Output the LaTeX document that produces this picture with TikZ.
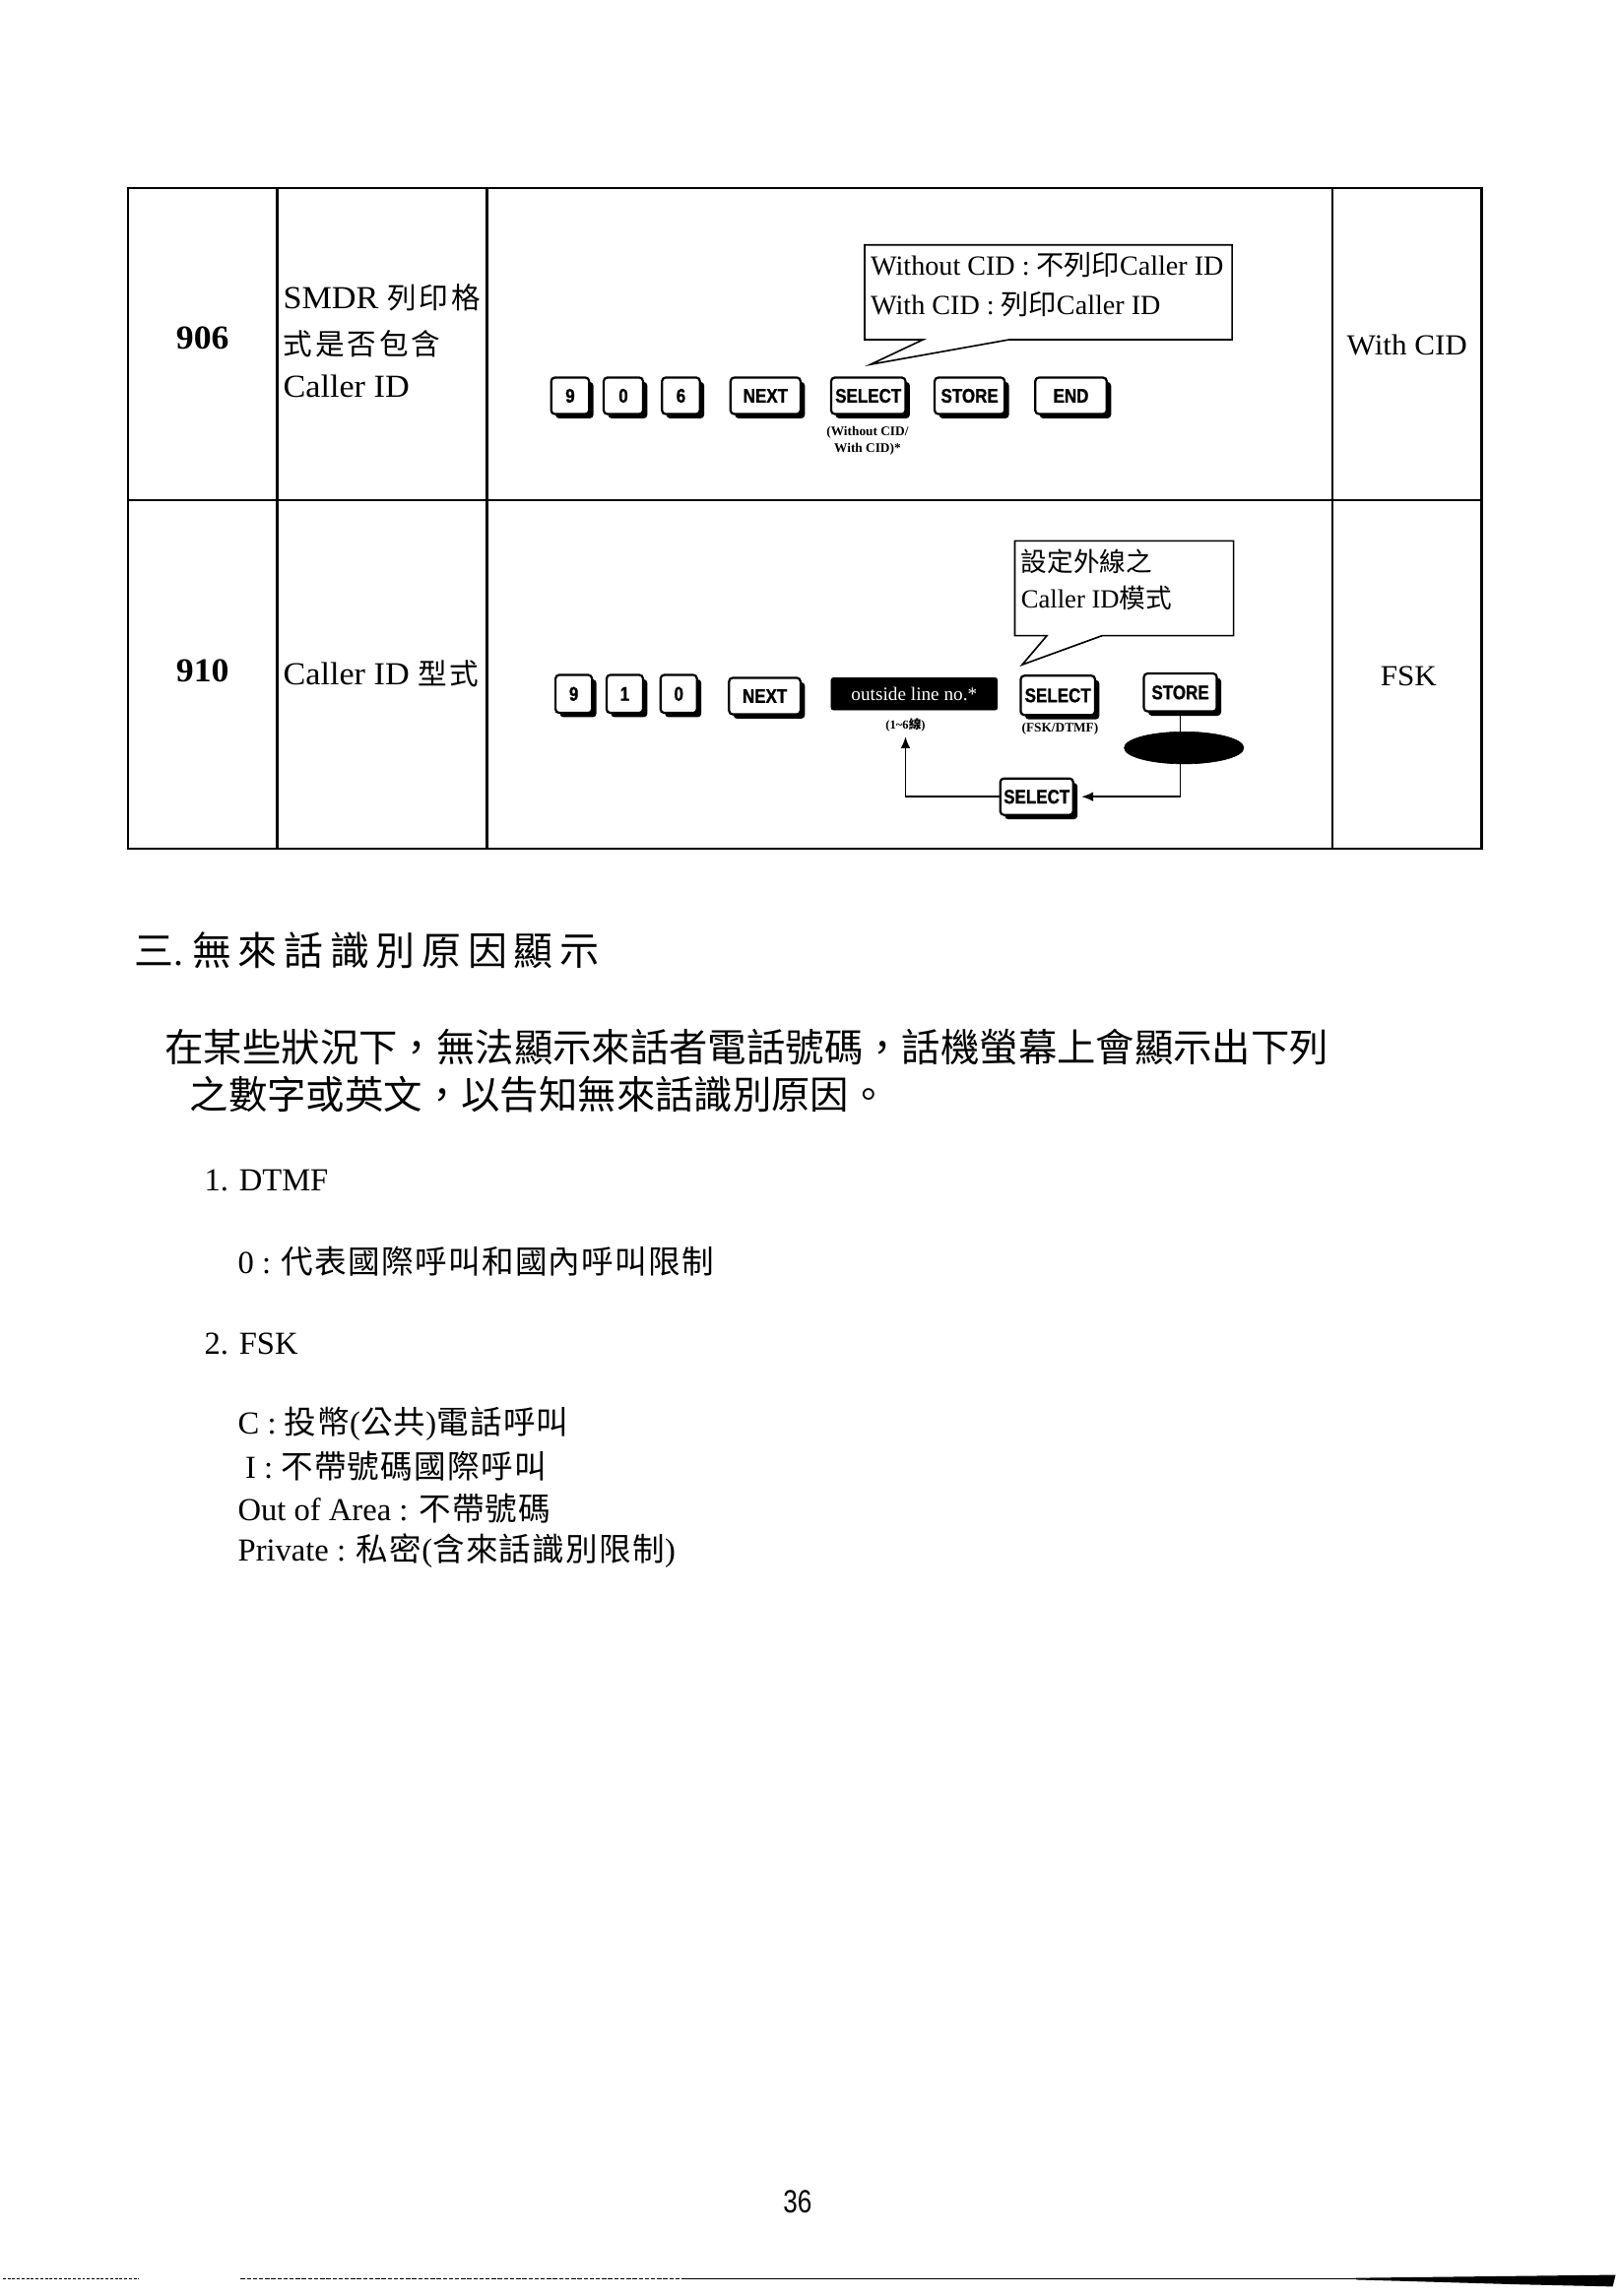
\documentclass[tikz,border=0pt]{standalone}
\usepackage{fontspec}
\setmainfont{Liberation Serif}
\newfontfamily\zhfont{Noto Sans CJK TC}
\newfontfamily\zhsfont{Noto Sans CJK TC}[LetterSpace=4]
\newfontfamily\tabfont{Liberation Serif}[FakeStretch=1.05]
\newfontfamily\keyfont{Liberation Sans}[FakeStretch=0.85, FakeBold=1]
\newfontfamily\pgfont{Liberation Sans}[FakeStretch=0.8]
\newcommand{\zh}[1]{{\zhfont #1}}
\newcommand{\zhs}[1]{{\zhsfont #1}}
\newcommand{\hs}{\hspace{2pt}}
\newcommand{\hh}{\hspace{4.5pt}}
\usetikzlibrary{shadows,arrows.meta,shapes.geometric}
\begin{document}
\begin{tikzpicture}[x=1pt,y=-1pt,
  tabline/.style={line width=1.6},
  keybox/.style={draw, line width=1.5, rounded corners=2.5, fill=white, inner sep=0pt,
    minimum height=25, font=\keyfont\bfseries\fontsize{13.5}{13.5}\selectfont,
    general shadow={fill=black, shadow xshift=3pt, shadow yshift=-3pt}},
  darkbox/.style={draw, fill=black, rounded corners=1.5, inner sep=0pt, text=white,
    font=\fontsize{13}{13}\selectfont},
  sublabel/.style={font=\bfseries\fontsize{9}{12}\selectfont, inner sep=0pt, align=center},
  callout/.style={draw, line width=1.1, fill=white, line join=miter},
  calltext/.style={anchor=west, inner sep=0pt, font=\fontsize{19}{19}\selectfont},
  tabtext/.style={inner sep=0pt, font=\tabfont\fontsize{22}{22}\selectfont},
  bodytext/.style={anchor=west, inner sep=0pt, font=\fontsize{22}{22}\selectfont},
  loopline/.style={line width=1.1},
  looparrow/.style={line width=1.1, -{Latex[length=8,width=6.5]}}
]
\useasboundingbox (0,0) rectangle (1110,1575);
\fill[white] (0,0) rectangle (1110,1575);

% ---------------- table ----------------
\draw[tabline] (88,129) rectangle (1016,582);
\draw[tabline] (190,129) -- (190,582);
\draw[tabline] (334,129) -- (334,582);
\draw[tabline] (914,129) -- (914,582);
\draw[tabline] (88,343) -- (1016,343);

\node[tabtext, font=\tabfont\bfseries\fontsize{23}{23}\selectfont] (n906) at (139,232) {906};
\node[tabtext, anchor=west] (d906a) at (194,204) {SMDR {\fontsize{20}{20}\selectfont\zh{列\hs 印\hs 格}}};
\node[tabtext, anchor=west] (d906b) at (194,236) {{\fontsize{20}{20}\selectfont\zh{式\hs 是\hs 否\hs 包\hs 含}}};
\node[tabtext, anchor=west] (d906c) at (194,265) {Caller ID};
\node[tabtext, font=\tabfont\fontsize{20}{20}\selectfont] (v906) at (965,237) {With CID};

\node[tabtext, font=\tabfont\bfseries\fontsize{23}{23}\selectfont] (n910) at (139,460) {910};
\node[tabtext, anchor=west] (d910) at (194,462) {Caller ID {\fontsize{20}{20}\selectfont\zh{型\hs 式}}};
\node[tabtext, font=\tabfont\fontsize{20}{20}\selectfont] (v910) at (966,464) {FSK};

% ---------------- row 906 diagram ----------------
\draw[callout] (593,168) -- (845,168) -- (845,233) -- (692,233) -- (597,250)
  -- (633,233) -- (593,233) -- cycle;
\node[calltext] (c1a) at (597,182) {Without CID : \zh{不列印}Caller ID};
\node[calltext] (c1b) at (597,209) {With CID : \zh{列印}Caller ID};

\node[keybox, minimum width=26] (a9) at (391,271.5) {9};
\node[keybox, minimum width=27] (a0) at (427.5,271.5) {0};
\node[keybox, minimum width=26] (a6) at (467,271.5) {6};
\node[keybox, minimum width=48] (anext) at (525,271.5) {NEXT};
\node[keybox, minimum width=51] (asel) at (595.5,271.5) {SELECT};
\node[keybox, minimum width=48] (astore) at (665,271.5) {STORE};
\node[keybox, minimum width=49] (aend) at (734.5,271.5) {END};
\node[sublabel] (asub) at (595,302.5) {(Without CID/\\With CID)*};

% ---------------- row 910 diagram ----------------
\draw[callout] (696,371) -- (846,371) -- (846,436) -- (756,436) -- (701,456)
  -- (718,436) -- (696,436) -- cycle;
\node[calltext, font=\fontsize{18}{18}\selectfont] (c2a) at (700,385) {\zh{設定外線之}};
\node[calltext, font=\fontsize{18}{18}\selectfont] (c2b) at (700,410) {Caller ID\zh{模式}};

\node[keybox, minimum width=25, minimum height=26] (b9) at (393.5,476) {9};
\node[keybox, minimum width=25, minimum height=26] (b1) at (428.5,476) {1};
\node[keybox, minimum width=25, minimum height=26] (b0) at (465.5,476) {0};
\node[keybox, minimum width=49] (bnext) at (524.5,477.5) {NEXT};
\node[darkbox, minimum width=114, minimum height=22] (bline) at (627,476) {outside line no.*};
\node[sublabel, font=\bfseries\fontsize{8.5}{8.5}\selectfont] (brange) at (621,497.5) {(1\textasciitilde 6\zh{線})};
\node[keybox, minimum width=51, minimum height=27] (bsel) at (725.5,477) {SELECT};
\node[sublabel] (bfsk) at (727,500) {(FSK/DTMF)};
\node[keybox, minimum width=50, minimum height=26] (bstore) at (809.5,475) {STORE};
\node[keybox, minimum width=50] (bsel2) at (711,546.5) {SELECT};

\draw[loopline] (bstore.south) -- (bstore.south |- bsel2.east) coordinate (corner);
\node[ellipse, fill=black, draw=black, minimum width=82, minimum height=22, inner sep=0pt] (blob) at (812,513) {};
\draw[looparrow] (corner) -- ([xshift=5pt]bsel2.east);
\draw[looparrow] (bsel2.west) -| ([yshift=-3pt]brange.south);

% ---------------- section text ----------------
\node[anchor=west, inner sep=0pt, font=\fontsize{27}{27}\selectfont] (head) at (92,652)
  {\zh{三}.\hspace{6pt}\zh{無\hh 來\hh 話\hh 識\hh 別\hh 原\hh 因\hh 顯\hh 示}};
\node[anchor=west, inner sep=0pt, font=\fontsize{26.6}{26.6}\selectfont] (p1) at (113,718)
  {\zh{在某些狀況下，無法顯示來話者電話號碼，話機螢幕上會顯示出下列}};
\node[anchor=west, inner sep=0pt, font=\fontsize{26.6}{26.6}\selectfont] (p2) at (130,751)
  {\zh{之數字或英文，以告知無來話識別原因。}};

\node[bodytext] (l1) at (140,810) {1. DTMF};
\node[bodytext] (l1a) at (163,865) {0 : \zhs{代表國際呼叫和國內呼叫限制}};
\node[bodytext] (l2) at (140,922) {2. FSK};
\node[bodytext] (l2a) at (163,977) {C : \zhs{投幣}(\zhs{公共})\zhs{電話呼叫}};
\node[bodytext] (l2b) at (168,1006) {I : \zhs{不帶號碼國際呼叫}};
\node[bodytext] (l2c) at (163,1035) {Out of Area : \zhs{不帶號碼}};
\node[bodytext] (l2d) at (163,1064) {Private : \zhs{私密}(\zhs{含來話識別限制})};

% ---------------- footer ----------------
\node[inner sep=0pt, font=\pgfont\fontsize{22}{22}\selectfont] (pg) at (547,1510) {36};
\draw[line width=0.6, dash pattern=on 2pt off 1.2pt] (2,1563) -- (95,1563);
\draw[line width=0.6, dash pattern=on 3pt off 1.2pt] (165,1563) -- (470,1563);
\draw[line width=0.9] (470,1563) -- (930,1563);
\fill (930,1562.6) -- (1108,1560.5) -- (1106,1568.5) -- (1040,1567) -- (930,1563.8) -- cycle;
\end{tikzpicture}
\end{document}
